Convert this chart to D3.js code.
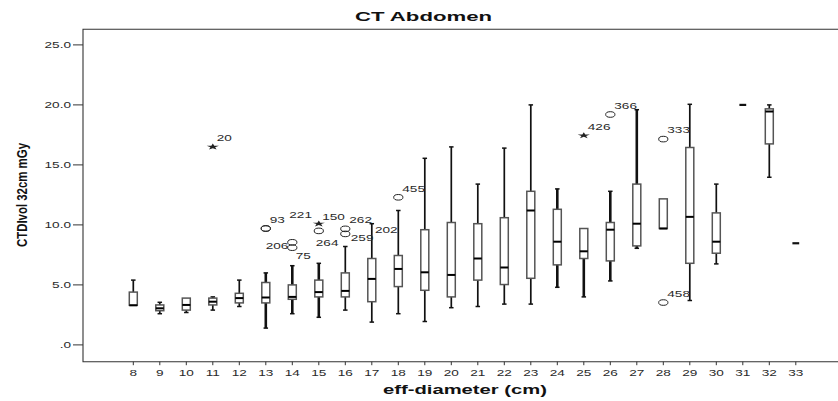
<!DOCTYPE html>
<html><head><meta charset="utf-8">
<script src="https://cdn.jsdelivr.net/npm/d3@7"></script>
<style>body{margin:0;background:#fff}svg{display:block}</style>
</head><body>
<svg id="chart" width="838" height="401"></svg>
<script>
// ---- data ----
const categories = ["8","9","10","11","12","13","14","15","16","17","18","19","20","21","22","23","24","25","26","27","28","29","30","31","32","33"];
const whiskerLow  = [3.3, 2.6, 2.7, 2.9, 3.2, 1.4, 2.6, 2.3, 2.9, 1.9, 2.6, 1.95, 3.1, 3.2, 3.4, 3.4, 4.8, 4.0, 5.33, 8.05, 9.7, 3.7, 6.75, 20.0, 13.97, 8.47];
const q1          = [3.3, 2.85, 2.9, 3.33, 3.5, 3.5, 3.8, 4.0, 4.0, 3.6, 4.86, 4.55, 4.0, 5.4, 5.03, 5.55, 6.67, 7.2, 7.0, 8.25, 9.7, 6.8, 7.64, 20.0, 16.75, 8.47];
const medians     = [3.3, 3.05, 3.33, 3.6, 3.9, 3.95, 4.0, 4.4, 4.5, 5.5, 6.33, 6.05, 5.83, 7.2, 6.45, 11.2, 8.6, 7.8, 9.6, 10.1, 9.7, 10.67, 8.6, 20.0, 19.45, 8.47];
const q3          = [4.4, 3.33, 3.9, 3.9, 4.3, 5.2, 5.0, 5.4, 6.0, 7.2, 7.45, 9.6, 10.2, 10.1, 10.6, 12.8, 11.3, 9.7, 10.2, 13.4, 12.17, 16.45, 11.0, 20.0, 19.67, 8.47];
const whiskerHigh = [5.4, 3.55, 3.9, 4.0, 5.4, 6.0, 6.6, 6.8, 8.2, 10.1, 11.2, 15.55, 16.5, 13.4, 16.4, 20.0, 13.0, 9.7, 12.8, 19.6, 12.17, 20.05, 13.4, 20.0, 20.0, 8.47];

const outlierCats   = ["11","13","13","14","14","15","15","16","16","17","18","25","26","28","28"];
const outlierValues = [16.5, 9.7, 9.7, 8.55, 8.1, 10.1, 9.5, 9.67, 9.25, 9.9, 12.3, 17.45, 19.2, 17.15, 3.53];
const outlierKinds  = ["star","circle","circle","circle","circle","star","circle","circle","circle","none","circle","star","circle","circle","circle"];
const outlierLabels = ["20","93","221","206","75","150","264","262","259","202","455","426","366","333","458"];

const yTickValues = [0, 5, 10, 15, 20, 25];
const yTickLabels = [".0", "5.0", "10.0", "15.0", "20.0", "25.0"];

const titleText = "CT Abdomen";
const xTitle = "eff-diameter (cm)";
const yTitle = "CTDIvol 32cm mGy";

// ---- drawing ----
(function () {
const svg = d3.select("#chart");
const FONT = "'Liberation Sans', Arial, sans-serif";
const pLeft = 83, pTop = 29.3, pBottom = 361.7, pRight = 845;

const x = d3.scalePoint().domain(categories).range([133.3, 795.8]);
const y = d3.scaleLinear().domain([-1.4, 26.3]).range([pBottom, pTop]);

const SX = 1.6; // horizontal stretch of the original rendering
function wtext(g, px, py, str, anchor, size, weight) {
  return g.append("text")
    .attr("transform", `translate(${px},${py}) scale(${SX},1)`)
    .attr("text-anchor", anchor || "start")
    .attr("font-family", FONT)
    .attr("font-size", size || 8.5)
    .attr("font-weight", weight || "normal")
    .attr("fill", "#2a2a2a")
    .text(str);
}

// frame
svg.append("path")
  .attr("d", `M${pRight},${pTop}H${pLeft}V${pBottom}H${pRight}`)
  .attr("fill", "none").attr("stroke", "#333").attr("stroke-width", 1.1);

// y axis ticks + labels
const yAxisG = svg.append("g");
yTickValues.forEach((v, i) => {
  yAxisG.append("line").attr("x1", pLeft - 10).attr("x2", pLeft)
    .attr("y1", y(v)).attr("y2", y(v)).attr("stroke", "#333").attr("stroke-width", 1);
  wtext(yAxisG, pLeft - 12, y(v) + 3, yTickLabels[i], "end");
});

// x axis ticks + labels
const xAxisG = svg.append("g");
categories.forEach(c => {
  xAxisG.append("line").attr("x1", x(c)).attr("x2", x(c))
    .attr("y1", pBottom).attr("y2", pBottom + 3.5).attr("stroke", "#333").attr("stroke-width", 1);
  wtext(xAxisG, x(c), 376, c, "middle");
});

// titles
svg.append("text").attr("x", 423.5).attr("y", 20.7).attr("text-anchor", "middle")
  .attr("font-family", FONT).attr("font-size", 12.5).attr("font-weight", "bold")
  .attr("textLength", 137).attr("lengthAdjust", "spacingAndGlyphs").attr("fill", "#111")
  .text(titleText);
svg.append("text").attr("x", 465).attr("y", 394).attr("text-anchor", "middle")
  .attr("font-family", FONT).attr("font-size", 12.5).attr("font-weight", "bold")
  .attr("textLength", 164).attr("lengthAdjust", "spacingAndGlyphs").attr("fill", "#111")
  .text(xTitle);
svg.append("text").attr("transform", "translate(27,195) rotate(-90)").attr("text-anchor", "middle")
  .attr("font-family", FONT).attr("font-size", 14.5).attr("font-weight", "bold")
  .attr("textLength", 104).attr("lengthAdjust", "spacingAndGlyphs").attr("fill", "#111")
  .text(yTitle);

// boxes
const boxW = 8, capW = 4.5;
const thickWhisker = new Set(["13","14","15","24","25","26","27"]);
const boxG = svg.append("g");
categories.forEach((c, i) => {
  const cx = x(c);
  const sw = thickWhisker.has(c) ? 2.6 : 1.7;
  const single = whiskerLow[i] === whiskerHigh[i];
  if (single) {
    boxG.append("line").attr("x1", cx - 3.4).attr("x2", cx + 3.4)
      .attr("y1", y(medians[i])).attr("y2", y(medians[i]))
      .attr("stroke", "#111").attr("stroke-width", 2.2);
    return;
  }
  if (whiskerHigh[i] > q3[i]) {
    boxG.append("line").attr("x1", cx).attr("x2", cx).attr("y1", y(q3[i])).attr("y2", y(whiskerHigh[i]))
      .attr("stroke", "#111").attr("stroke-width", sw);
    boxG.append("line").attr("x1", cx - capW / 2).attr("x2", cx + capW / 2)
      .attr("y1", y(whiskerHigh[i])).attr("y2", y(whiskerHigh[i])).attr("stroke", "#111").attr("stroke-width", 1.5);
  }
  if (whiskerLow[i] < q1[i]) {
    boxG.append("line").attr("x1", cx).attr("x2", cx).attr("y1", y(q1[i])).attr("y2", y(whiskerLow[i]))
      .attr("stroke", "#111").attr("stroke-width", sw);
    boxG.append("line").attr("x1", cx - capW / 2).attr("x2", cx + capW / 2)
      .attr("y1", y(whiskerLow[i])).attr("y2", y(whiskerLow[i])).attr("stroke", "#111").attr("stroke-width", 1.5);
  }
  boxG.append("rect").attr("x", cx - boxW / 2).attr("width", boxW)
    .attr("y", y(q3[i])).attr("height", y(q1[i]) - y(q3[i]))
    .attr("fill", "#fff").attr("stroke", "#555").attr("stroke-width", 1.5);
  boxG.append("line").attr("x1", cx - boxW / 2).attr("x2", cx + boxW / 2)
    .attr("y1", y(medians[i])).attr("y2", y(medians[i]))
    .attr("stroke", "#000").attr("stroke-width", 2);
});

// outliers
const labelNudge = { "221": [23.5, -11], "206": [-4, 6.5, "end"], "75": [3.5, 11], "264": [-3, 15.5], "259": [5.5, 7], "202": [3.2, 7.2], "150": [3.4, -3.3] };
const outG = svg.append("g");
outlierValues.forEach((v, i) => {
  const cx = x(outlierCats[i]), cy = y(v);
  if (outlierKinds[i] === "circle") {
    outG.append("ellipse").attr("cx", cx).attr("cy", cy).attr("rx", 4.6).attr("ry", 2.8)
      .attr("fill", "none").attr("stroke", "#222").attr("stroke-width", 1);
  } else if (outlierKinds[i] === "star") {
    outG.append("path").attr("d", d3.symbol(d3.symbolStar, 22)())
      .attr("transform", `translate(${cx},${cy}) scale(1.45,0.75)`).attr("fill", "#222");
  }
  const n = labelNudge[outlierLabels[i]] || [4, -5.8];
  wtext(outG, cx + n[0], cy + n[1], outlierLabels[i], n[2] || "start");
});
})();
</script>
</body></html>
